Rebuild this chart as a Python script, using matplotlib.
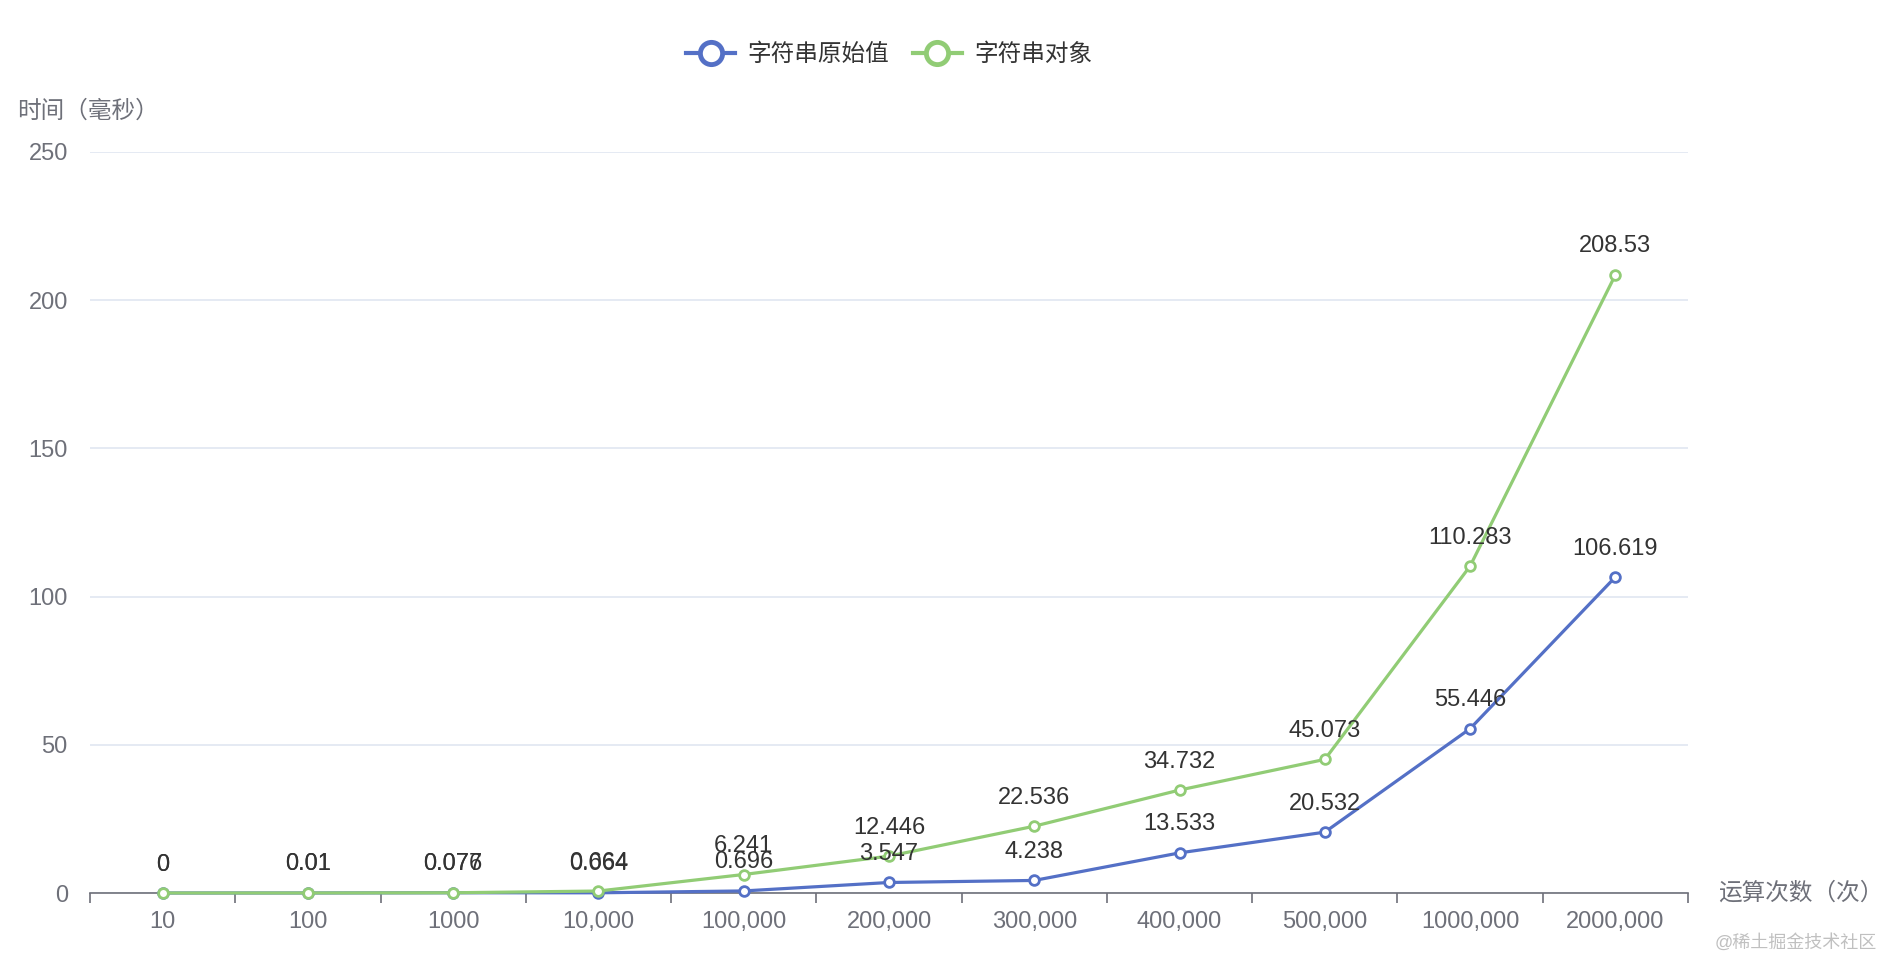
import matplotlib
matplotlib.use("Agg")
import matplotlib.pyplot as plt
from matplotlib.lines import Line2D

plt.rcParams['font.family'] = ['Liberation Sans', 'Noto Sans CJK SC', 'DejaVu Sans']

categories = ["10", "100", "1000", "10,000", "100,000", "200,000", "300,000",
              "400,000", "500,000", "1000,000", "2000,000"]
primitive = [0, 0.01, 0.076, 0.064, 0.696, 3.547, 4.238, 13.533, 20.532, 55.446, 106.619]
obj = [0, 0.01, 0.077, 0.664, 6.241, 12.446, 22.536, 34.732, 45.073, 110.283, 208.53]
yticks = [0, 50, 100, 150, 200, 250]
series_names = ["字符串原始值", "字符串对象"]
colors = ["#5470c6", "#91cc75"]

W, H = 1882, 960
fig = plt.figure(figsize=(W / 100, H / 100), dpi=100)
left, right, top, bottom = 90, 1688, 152, 893
ax = fig.add_axes([left / W, 1 - bottom / H, (right - left) / W, (bottom - top) / H])

x = list(range(len(categories)))
for vals, c in zip([primitive, obj], colors):
    ax.plot(x, vals, color=c, lw=2.3, marker='o', ms=7, mfc='white', mec=c,
            mew=2.0, zorder=3, clip_on=False)
    for xi, v in zip(x, vals):
        ax.annotate(f"{v:g}", (xi, v), xytext=(0, 20.5), textcoords='offset points',
                    ha='center', va='center', fontsize=17, color='#333333', zorder=4)

ax.set_xlim(-0.5, len(categories) - 0.5)
ax.set_ylim(0, 250)
ax.set_yticks(yticks)
ax.set_yticklabels([str(t) for t in yticks])
ax.tick_params(axis='y', length=0, pad=16, labelsize=17, labelcolor='#6e7079')
ax.set_xticks(x)
ax.set_xticklabels(categories)
ax.tick_params(axis='x', length=0, pad=13, labelsize=17, labelcolor='#6e7079')
# boundary ticks
ax.set_xticks([i - 0.5 for i in range(len(categories) + 1)], minor=True)
ax.tick_params(axis='x', which='minor', length=7, width=1.2, color='#6e7079')

ax.grid(axis='y', color='#e0e6f1', lw=1.2)
ax.set_axisbelow(True)
for s in ['top', 'right', 'left']:
    ax.spines[s].set_visible(False)
ax.spines['bottom'].set_color('#6e7079')
ax.spines['bottom'].set_linewidth(1.2)
ax.spines['bottom'].set_zorder(2)

fig.text(17 / W, 1 - 111 / H, "时间（毫秒）", fontsize=17, color='#6e7079', va='center', ha='left')
fig.text(1718 / W, 1 - 893 / H, "运算次数（次）", fontsize=17, color='#6e7079', va='center', ha='left')
fig.text(1715 / W, 1 - 943 / H, "@稀土掘金技术社区", fontsize=13, color='#c0c0c0', va='center', ha='left')

handles = [Line2D([0], [0], color=c, lw=3, marker='o', ms=16, mfc='white', mec=c, mew=3.5)
           for c in colors]
fig.legend(handles, series_names, loc='center', bbox_to_anchor=(889 / W, 1 - 55 / H), ncol=2,
           frameon=False, fontsize=17, handlelength=2.1, columnspacing=1.0,
           handletextpad=0.5, labelcolor='#333333')

fig.savefig("out.png", dpi=100, facecolor='white')
